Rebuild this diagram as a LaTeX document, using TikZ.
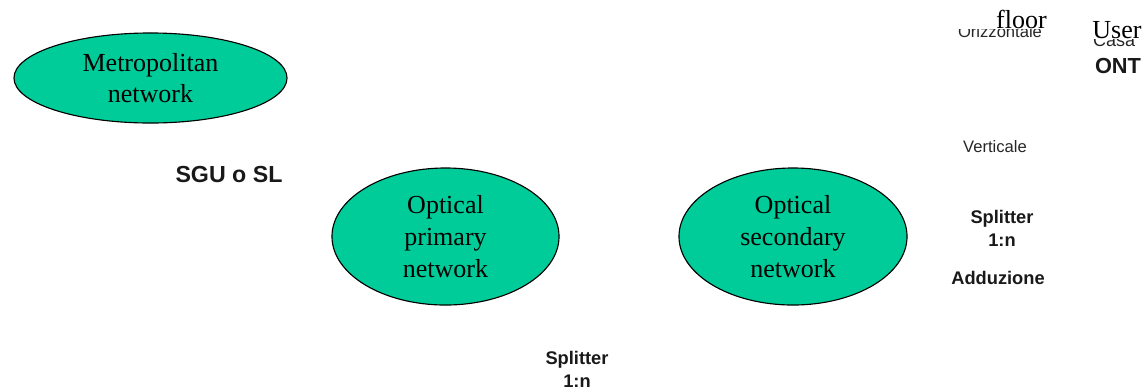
\documentclass[tikz,border=0pt]{standalone}
\usepackage{fontspec}
\setmainfont{Liberation Serif}
\setsansfont{Liberation Sans}
\usetikzlibrary{shapes.geometric}
\definecolor{netgreen}{RGB}{0,204,153}
\newcommand{\netfont}{\fontsize{18.5}{22.5}\selectfont}
\newcommand{\tagfont}{\sffamily\bfseries\fontsize{13}{16.5}\selectfont}
\newcommand{\bigtagfont}{\sffamily\bfseries\fontsize{15.5}{18}\selectfont}
\newcommand{\smallfont}{\sffamily\fontsize{11.8}{14}\selectfont}

\begin{document}
\begin{tikzpicture}[x=0.025cm, y=-0.025cm,
  net/.style={ellipse, draw=black, fill=netgreen, line width=0.8pt, inner sep=0pt, align=center, font=\netfont},
  tag/.style={align=center, font=\tagfont, text=black!90},
  note/.style={font=\smallfont, text=black!85},
  cover/.style={fill=white, inner sep=0pt, text depth=0pt, font=\netfont}
]
  \useasboundingbox (0,0) rectangle (1148,390);
  % Networks
  \node[net, minimum width=6.825cm, minimum height=2.25cm]  (metro)     at (150.5,78)  {Metropolitan\\network};
  \node[net, minimum width=5.675cm, minimum height=3.425cm] (primary)   at (445.5,236.5) {Optical\\primary\\network};
  \node[net, minimum width=5.7cm,   minimum height=3.425cm] (secondary) at (793,236.5) {Optical\\secondary\\network};
  % Labels
  \node[tag, font=\sffamily\bfseries\fontsize{16.5}{18}\selectfont] (sgu) at (229,175) {SGU o SL};
  \node[tag] (splitA) at (577,369) {Splitter\\1:n};
  \node[tag] (splitB) at (1002,228) {Splitter\\1:n};
  \node[tag] (adduz)  at (998,278) {Adduzione};
  \node[note] (vert)  at (995,147) {Verticale};
  % Building side (top right)
  \node[note, anchor=base] (orizz) at (1000,37) {Orizzontale};
  \node[cover, anchor=south east, text width=2.2cm, align=right] (floor) at (1047,29) {floor};
  \node[note, anchor=base, font=\sffamily\fontsize{12.8}{14}\selectfont] (casa) at (1114,46) {Casa};
  \node[cover, anchor=south] (user) at (1117,39) {User};
  \node[tag, font=\bigtagfont, anchor=base] (ont) at (1118,73) {ONT};
\end{tikzpicture}
\end{document}
